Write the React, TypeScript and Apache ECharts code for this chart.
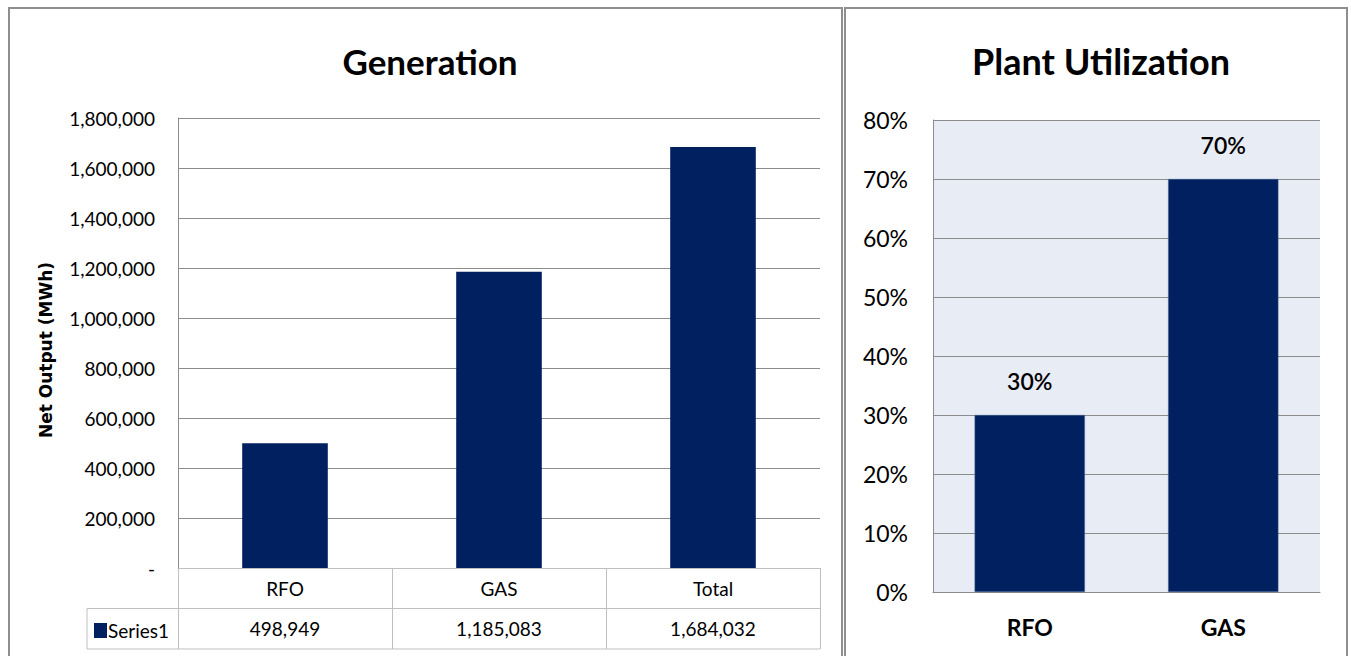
import React, { useEffect, useRef } from "react";
import * as echarts from "echarts";

const categories = ["RFO", "GAS", "Total"];
const netOutput = [498949, 1185083, 1684032];
const seriesName = "Series1";
const genTitle = "Generation";
const genAxisName = "Net Output (MWh)";

const utilCategories = ["RFO", "GAS"];
const utilization = [30, 70];
const utilTitle = "Plant Utilization";

const NAVY = "#002060";
const FONT = "Lato, 'Open Sans', sans-serif";

const fmt = (v: number) => (v === 0 ? "-" : v.toLocaleString("en-US"));

// layout constants (pixels)
const GL = 178, GR = 820, GT = 118, GB = 568;
const ROW = 40.5;
const TABLE_L = 87;
const UL = 933, UR = 1320, UT = 120, UB = 592;
const W = 1351, H = 656;

export default function App() {
  const ref = useRef<HTMLDivElement>(null);
  useEffect(() => {
    if (!ref.current) return;
    const chart = echarts.init(ref.current, null, { renderer: "svg" });
    const tableLine = "#BFBFBF";
    chart.setOption({
      animation: false,
      textStyle: { fontFamily: FONT, color: "#000" },
      title: [
        {
          text: genTitle,
          left: 425,
          textAlign: "center",
          top: 38,
          textStyle: { fontFamily: FONT, fontSize: 35, fontWeight: "bold", color: "#000" },
        },
        {
          text: utilTitle,
          left: 1096,
          textAlign: "center",
          top: 38,
          textStyle: { fontFamily: FONT, fontSize: 36, fontWeight: "bold", color: "#000" },
        },
      ],
      legend: {
        data: [seriesName],
        left: 94,
        top: 621,
        padding: 0,
        icon: "rect",
        itemWidth: 13,
        itemHeight: 15,
        itemGap: 2,
        selectedMode: false,
        textStyle: { fontFamily: FONT, fontSize: 19, color: "#000", padding: [0, 0, 0, -4] },
      },
      grid: [
        { left: GL, right: W - GR, top: GT, bottom: H - GB, containLabel: false },
        {
          left: UL,
          right: W - UR,
          top: UT,
          bottom: H - UB,
          containLabel: false,
          show: true,
          backgroundColor: "#E8ECF4",
          borderWidth: 0,
        },
      ],
      xAxis: [
        {
          type: "category",
          gridIndex: 0,
          data: categories,
          axisLine: { show: true, lineStyle: { color: tableLine, width: 1 } },
          axisTick: { show: true, length: ROW * 2, interval: 0, lineStyle: { color: tableLine, width: 1 } },
          axisLabel: { fontFamily: FONT, fontSize: 19, color: "#000", margin: 11, interval: 0 },
        },
        {
          type: "category",
          gridIndex: 0,
          position: "bottom",
          offset: ROW,
          data: categories,
          axisLine: { show: false },
          axisTick: { show: false },
          axisLabel: {
            fontFamily: FONT,
            fontSize: 19,
            color: "#000",
            margin: 10,
            interval: 0,
            formatter: (_v: string, i: number) => fmt(netOutput[i]),
          },
        },
        {
          type: "category",
          gridIndex: 1,
          data: utilCategories,
          axisLine: { show: true, lineStyle: { color: "#8C8C8C", width: 1 } },
          axisTick: { show: false },
          axisLabel: { fontFamily: FONT, fontSize: 23, fontWeight: "bold", color: "#000", margin: 23, interval: 0 },
        },
      ],
      yAxis: [
        {
          type: "value",
          gridIndex: 0,
          min: 0,
          max: 1800000,
          interval: 200000,
          name: genAxisName,
          nameLocation: "middle",
          nameGap: 124,
          nameRotate: 90,
          nameTextStyle: {
            fontFamily: "'DejaVu Sans', sans-serif",
            fontSize: 17,
            fontWeight: "bold",
            color: "#000",
            padding: [0, 0, 0, -14],
          },
          axisLine: { show: true, lineStyle: { color: "#8C8C8C", width: 1 } },
          axisTick: { show: false },
          splitLine: { show: true, lineStyle: { color: "#8C8C8C", width: 1 } },
          axisLabel: {
            fontFamily: FONT,
            fontSize: 19,
            color: "#000",
            margin: 23,
            formatter: (v: number) => fmt(v),
          },
        },
        {
          type: "value",
          gridIndex: 1,
          min: 0,
          max: 80,
          interval: 10,
          axisLine: { show: true, lineStyle: { color: "#8C8C8C", width: 1 } },
          axisTick: { show: false },
          splitLine: { show: true, lineStyle: { color: "#8C8C8C", width: 1 } },
          axisLabel: {
            fontFamily: FONT,
            fontSize: 23,
            color: "#000",
            margin: 25,
            formatter: "{value}%",
          },
        },
      ],
      series: [
        {
          name: seriesName,
          type: "bar",
          xAxisIndex: 0,
          yAxisIndex: 0,
          data: netOutput,
          barWidth: "40%",
          itemStyle: { color: NAVY },
        },
        {
          name: "Utilization",
          type: "bar",
          xAxisIndex: 2,
          yAxisIndex: 1,
          data: utilization,
          barWidth: "57%",
          itemStyle: { color: NAVY, borderColor: "#4A6A9A", borderWidth: 0.5 },
          label: {
            show: true,
            position: "top",
            distance: 23,
            formatter: "{c}%",
            fontFamily: FONT,
            fontSize: 23,
            fontWeight: 600,
            color: "#000",
          },
        },
      ],
      graphic: [
        {
          type: "rect",
          silent: true,
          shape: { x: 9, y: 8, width: 833, height: 700 },
          style: { fill: "none", stroke: "#8E8E8E", lineWidth: 2 },
        },
        {
          type: "rect",
          silent: true,
          shape: { x: 845, y: 8, width: 502, height: 700 },
          style: { fill: "none", stroke: "#8E8E8E", lineWidth: 2 },
        },
        {
          type: "line",
          silent: true,
          shape: { x1: TABLE_L, y1: GB + ROW, x2: GR, y2: GB + ROW },
          style: { stroke: tableLine, lineWidth: 1 },
        },
        {
          type: "line",
          silent: true,
          shape: { x1: TABLE_L, y1: GB + ROW * 2, x2: GR, y2: GB + ROW * 2 },
          style: { stroke: tableLine, lineWidth: 1 },
        },
        {
          type: "line",
          silent: true,
          shape: { x1: TABLE_L, y1: GB + ROW, x2: TABLE_L, y2: GB + ROW * 2 },
          style: { stroke: tableLine, lineWidth: 1 },
        },
      ],
    });
    return () => chart.dispose();
  }, []);
  return (
    <div
      ref={ref}
      style={{ position: "absolute", left: 0, top: 0, width: W, height: H, background: "#fff" }}
    />
  );
}
